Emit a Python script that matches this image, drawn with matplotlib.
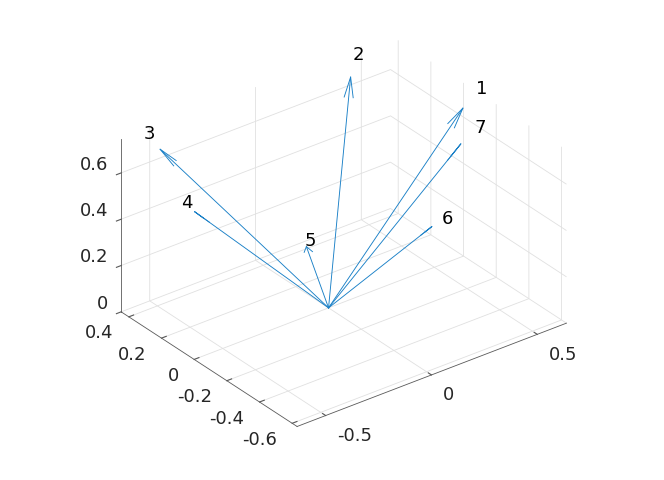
import numpy as np
import matplotlib
matplotlib.use("Agg")
import matplotlib.pyplot as plt

# vector components, all start in the origin
u = [0.635, 0.39, -0.41, -0.62, 0.235, 0.152, 0.27]
v = [0.0, 0.37, 0.50, 0.017, 0.44, -0.4355, -0.46]
w = [0.64, 0.69, 0.599, 0.625, -0.02, 0.498, 0.825]
names = ["1", "2", "3", "4", "5", "6", "7"]

x_ticks = [-0.5, 0, 0.5]
x_labels = ["-0.5", "0", "0.5"]
y_ticks = [-0.6, -0.4, -0.2, 0, 0.2, 0.4]
y_labels = ["-0.6", "-0.4", "-0.2", "0", "0.2", "0.4"]
z_ticks = [0, 0.2, 0.4, 0.6]
z_labels = ["0", "0.2", "0.4", "0.6"]

farge = (0.1, 0.5, 0.78)
alpha = 0.088
beta = 0.36

fig = plt.figure(figsize=(6.64, 4.81), dpi=100)
ax = fig.add_subplot(projection="3d", proj_type="ortho")

# one shaft and one head per vector, head wings lie flat like in quiver3
for a in range(len(u)):
    ax.plot([0, u[a]], [0, v[a]], [0, w[a]], color=farge, lw=0.65)
    hx = [u[a] - alpha * (u[a] + beta * v[a]), u[a], u[a] - alpha * (u[a] - beta * v[a])]
    hy = [v[a] - alpha * (v[a] - beta * u[a]), v[a], v[a] - alpha * (v[a] + beta * u[a])]
    hz = [w[a] - alpha * w[a], w[a], w[a] - alpha * w[a]]
    ax.plot(hx, hy, hz, color=farge, lw=0.65)
    ax.text(1.1 * u[a], 1.1 * v[a], 1.1 * w[a], names[a], color="black",
            fontsize=13, ha="left", va="center")

ax.set_xlim(-0.635, 0.638)
ax.set_ylim(-0.63, 0.447)
ax.set_zlim(0, 0.748)
ax.view_init(elev=30, azim=-127.5)
ax.set_box_aspect((339.5, 289, 200))
ax.set_position([100.2 / 664, 5.5 / 481, 474.4 / 664, 474.4 / 481])

ax.set_xticks(x_ticks)
ax.set_xticklabels(x_labels)
ax.set_yticks(y_ticks)
ax.set_yticklabels(y_labels)
ax.set_zticks(z_ticks)
ax.set_zticklabels(z_labels)

for akse in (ax.xaxis, ax.yaxis, ax.zaxis):
    akse.pane.set_facecolor((1, 1, 1, 0))
    akse.pane.set_edgecolor((1, 1, 1, 0))
    akse.line.set_color((0.35, 0.35, 0.35))
    akse.line.set_linewidth(0.6)
    akse._axinfo["grid"]["color"] = (0.88, 0.88, 0.88)
    akse._axinfo["grid"]["linewidth"] = 0.6
    akse._axinfo["tick"]["inward_factor"] = 0
    akse._axinfo["tick"]["outward_factor"] = 0.22
    akse.set_tick_params(labelsize=13, labelcolor=(0.15, 0.15, 0.15),
                         color=(0.35, 0.35, 0.35), width=0.6)

# z-aksen staar paa venstre side, tikkene maa snus
ax.zaxis.set_ticks_position("upper")
ax.zaxis._axinfo["tick"]["outward_factor"] = -0.22
ax.xaxis.set_tick_params(pad=4)
ax.yaxis.set_tick_params(pad=2)
ax.zaxis.set_tick_params(pad=-2.7)
for t in ax.get_xticklabels():
    t.set_ha("left")
    t.set_va("center")
for t in ax.get_yticklabels():
    t.set_ha("right")
    t.set_va("center")
for t in ax.get_zticklabels():
    t.set_ha("right")
    t.set_va("bottom")

fig.savefig("out.png", dpi=100)
